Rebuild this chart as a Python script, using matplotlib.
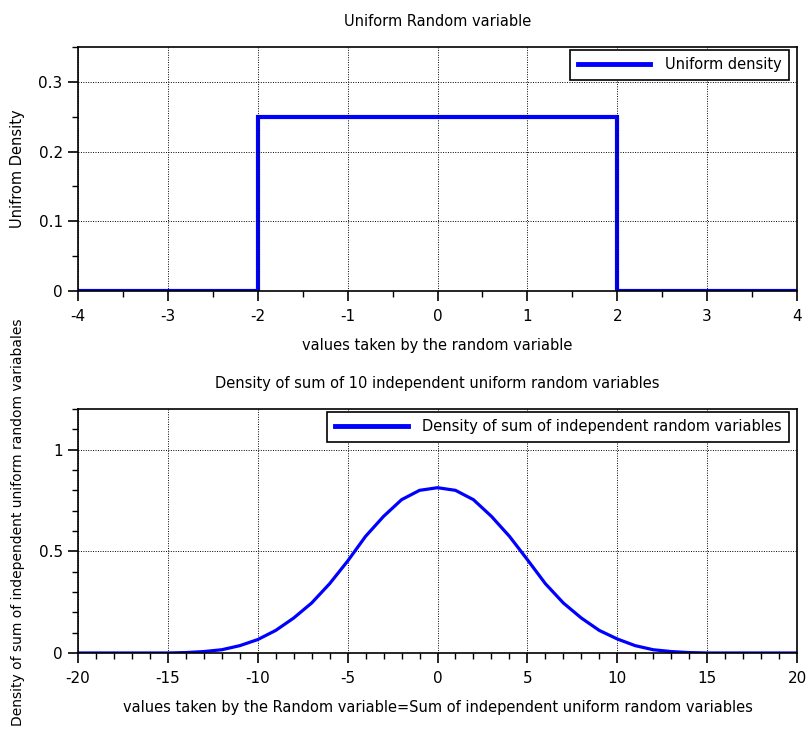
import matplotlib
matplotlib.use("Agg")
import matplotlib.pyplot as plt
from matplotlib.ticker import MultipleLocator

# ---- data ----
uniform_edges = [-4, -2, 2, 4]
uniform_density = [0.0, 0.25, 0.0]

sum_x = list(range(-20, 21))
sum_density = [0.0, 0.0, 0.0, 0.0, 0.0, 0.0, 0.002, 0.007, 0.016, 0.036,
               0.066, 0.111, 0.172, 0.246, 0.341, 0.452, 0.574, 0.672, 0.754, 0.800,
               0.813,
               0.800, 0.754, 0.672, 0.574, 0.459, 0.341, 0.246, 0.172, 0.111, 0.069,
               0.036, 0.016, 0.007, 0.002, 0.0, 0.0, 0.0, 0.0, 0.0, 0.0]

plt.rcParams['font.family'] = ['DejaVu Sans']
fig = plt.figure(figsize=(8.09, 7.30), dpi=100)

ax1 = fig.add_axes([0.0964, 0.6014, 0.8888, 0.3342])
ax2 = fig.add_axes([0.0964, 0.1055, 0.8888, 0.3342])

blue = '#0000ff'
ax1.stairs(uniform_density, uniform_edges, color=blue, linewidth=3.0,
           baseline=None, label='Uniform density')
ax2.plot(sum_x, sum_density, color=blue, linewidth=2.3,
         label='Density of sum of independent random variables')

ax1.set_xlim(-4, 4)
ax1.set_ylim(0, 0.35)
ax1.xaxis.set_minor_locator(MultipleLocator(0.5))
ax1.yaxis.set_minor_locator(MultipleLocator(0.05))
ax1.set_yticks([0, 0.1, 0.2, 0.3])
ax1.set_yticklabels(['0', '0.1', '0.2', '0.3'])
ax1.set_xticks(range(-4, 5))
ax1.set_xticklabels([str(v) for v in range(-4, 5)])

ax2.set_xlim(-20, 20)
ax2.set_ylim(0, 1.2)
ax2.xaxis.set_minor_locator(MultipleLocator(1))
ax2.yaxis.set_minor_locator(MultipleLocator(0.1))
ax2.set_yticks([0, 0.5, 1])
ax2.set_yticklabels(['0', '0.5', '1'])
ax2.set_xticks(range(-20, 21, 5))
ax2.set_xticklabels([str(v) for v in range(-20, 21, 5)])

FS = 10.5
for ax in (ax1, ax2):
    ax.grid(True, which='major', color='black', linestyle=(0, (1, 1.5)), linewidth=0.7)
    ax.tick_params(which='major', direction='out', length=7, width=1.2,
                   labelsize=11, pad=4, colors='black')
    ax.tick_params(axis='x', which='major', pad=6)
    ax.tick_params(which='minor', direction='out', length=4, width=1.0)
    ax.tick_params(axis='x', which='both', top=False)
    for s in ax.spines.values():
        s.set_linewidth(1.2)
        s.set_color('black')

ax1.set_title('Uniform Random variable', fontsize=FS, pad=15)
ax1.set_xlabel('values taken by the random variable', fontsize=FS, labelpad=10)
ax1.set_ylabel('Unifrom Density', fontsize=FS)
ax1.yaxis.set_label_coords(-0.074, 0.5)

ax2.set_title('Density of sum of 10 independent uniform random variables', fontsize=FS, pad=15)
ax2.set_xlabel('values taken by the Random variable=Sum of independent uniform random variables',
               fontsize=FS, labelpad=10)
ax2.set_ylabel('Density of sum of independent uniform random variabales', fontsize=10)
ax2.yaxis.set_label_coords(-0.074, 0.537)

for ax in (ax1, ax2):
    leg = ax.legend(loc='upper right', bbox_to_anchor=(0.9889, 0.9877),
                    fontsize=FS, frameon=True, fancybox=False,
                    edgecolor='black', framealpha=1, handlelength=5,
                    borderaxespad=0.0, borderpad=0.5, handletextpad=1.0)
    leg.get_frame().set_linewidth(1.2)
    for h in leg.get_lines():
        h.set_linewidth(3.5)

fig.savefig('out.png', dpi=100)
